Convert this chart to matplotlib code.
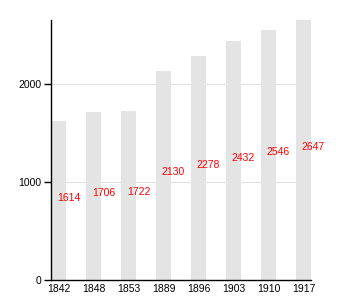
import numpy as np
import matplotlib.pyplot as plt

plt.rcParams['font.family'] = ['Liberation Sans', 'DejaVu Sans']

# Dados
anos = ['1842', '1848', '1853', '1889', '1896', '1903', '1910', '1917']
valores = [1614, 1706, 1722, 2130, 2278, 2432, 2546, 2647]

fig = plt.figure(figsize=(3.5, 3), dpi=100)
ax = fig.add_axes([51 / 350, 20 / 300, 260 / 350, 260 / 300])

x = np.arange(len(anos))
ax.bar(x, valores, width=0.43, color='#e4e4e4', zorder=2)

# Rótulos vermelhos no meio de cada barra
for i, v in enumerate(valores):
    ax.text(i - 0.05, v / 2, str(v), color='red', fontsize=7.5,
            ha='left', va='baseline', zorder=3)

ax.set_xlim(-0.215, len(anos) - 1 + 0.215)
ax.set_ylim(0, max(valores))
ax.set_xticks(x)
ax.set_xticklabels(anos)
ax.set_yticks([0, 1000, 2000])
ax.tick_params(axis='x', length=0, labelsize=7.5, pad=3)
ax.tick_params(axis='y', length=5, width=1, labelsize=7.5, pad=2)
ax.yaxis.grid(True, color='#e0e0e0', linewidth=0.8, zorder=1)
ax.set_axisbelow(True)

for lado in ['top', 'right']:
    ax.spines[lado].set_visible(False)
for lado in ['left', 'bottom']:
    ax.spines[lado].set_linewidth(1)

fig.savefig('out.png', dpi=100)
